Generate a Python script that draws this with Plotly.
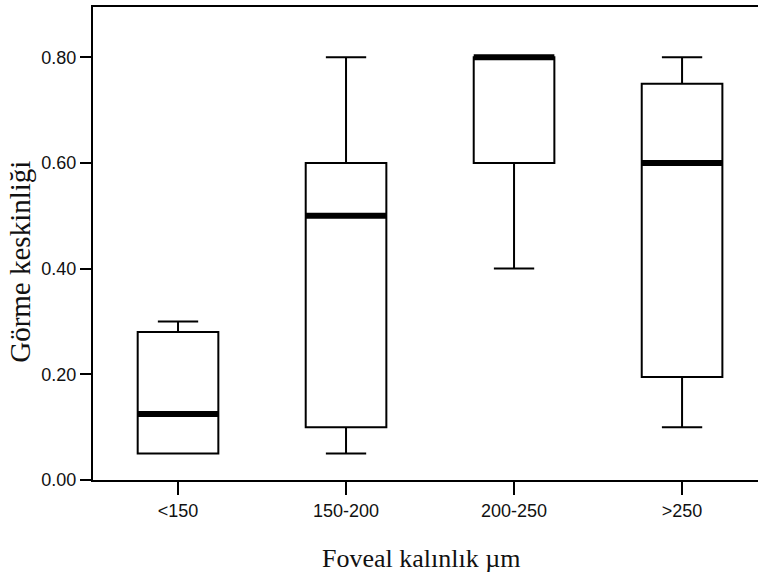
import plotly.graph_objects as go

categories = ["<150", "150-200", "200-250", ">250"]
q1 = [0.05, 0.10, 0.60, 0.195]
median = [0.125, 0.50, 0.80, 0.60]
q3 = [0.28, 0.60, 0.80, 0.75]
lower = [0.05, 0.05, 0.40, 0.10]
upper = [0.30, 0.80, 0.80, 0.80]
yticks = [0.0, 0.2, 0.4, 0.6, 0.8]
ytick_text = ["0.00", "0.20", "0.40", "0.60", "0.80"]

pos = list(range(len(categories)))
box_w = 0.48

fig = go.Figure()
fig.add_trace(go.Box(
    x=pos, q1=q1, median=median, q3=q3, lowerfence=lower, upperfence=upper,
    width=box_w, whiskerwidth=0.5, fillcolor="white",
    line=dict(color="black", width=2), boxpoints=False, showlegend=False,
    hoverinfo="skip",
))

mx, my = [], []
for p, m in zip(pos, median):
    mx += [p - box_w / 2, p + box_w / 2, None]
    my += [m, m, None]
fig.add_trace(go.Scatter(x=mx, y=my, mode="lines",
                         line=dict(color="black", width=6),
                         showlegend=False, hoverinfo="skip"))

tick_font = dict(family="Liberation Sans, Arial", size=18, color="#111")
serif = "Liberation Serif, Times New Roman, serif"

fig.update_layout(
    width=758, height=581,
    margin=dict(l=93, r=0, t=7, b=101),
    paper_bgcolor="white", plot_bgcolor="white",
    xaxis=dict(
        range=[-0.506, 3.452], tickmode="array", tickvals=pos, ticktext=categories,
        showline=True, linecolor="black", linewidth=2, mirror=True,
        ticks="outside", ticklen=13, tickwidth=2, tickcolor="black",
        showgrid=False, zeroline=False, tickfont=tick_font,
    ),
    yaxis=dict(
        range=[0, 0.895], tickmode="array", tickvals=yticks, ticktext=ytick_text,
        showline=True, linecolor="black", linewidth=2,
        ticks="outside", ticklen=11, tickwidth=2, tickcolor="black",
        showgrid=False, zeroline=False, tickfont=tick_font,
    ),
    annotations=[
        dict(text="Foveal kalınlık µm", xref="paper", yref="paper",
             x=0.493, y=-0.165, xanchor="center", yanchor="middle",
             showarrow=False, font=dict(family=serif, size=26, color="#111")),
        dict(text="Görme keskinliği", xref="paper", yref="paper",
             x=-0.11, y=0.461, xanchor="center", yanchor="middle", textangle=-90,
             showarrow=False, font=dict(family=serif, size=29, color="#111")),
    ],
)

fig.write_html("out.html")
